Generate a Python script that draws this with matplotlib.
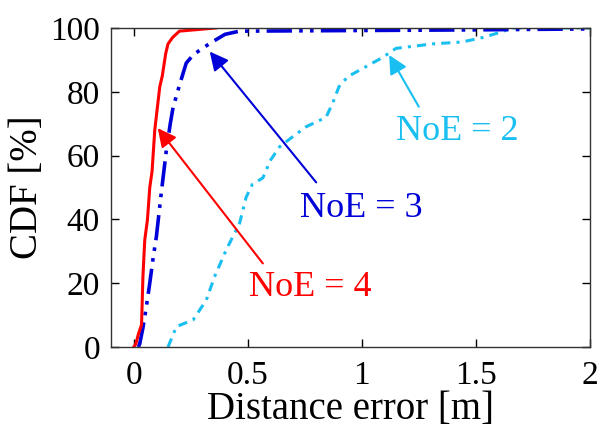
import numpy as np
import matplotlib
matplotlib.use("Agg")
import matplotlib.pyplot as plt

plt.rcParams['font.family'] = ['Liberation Serif', 'DejaVu Serif']

# CDF of distance error for each number of anchors (NoE)
err_noe4 = [0.0, 0.009, 0.02, 0.034, 0.04, 0.048, 0.06, 0.07, 0.08, 0.092, 0.1,
            0.114, 0.125, 0.14, 0.15, 0.17, 0.2, 0.36]
cdf_noe4 = [0, 1, 4, 7, 22, 33.5, 40, 50, 55, 68, 73,
            81.6, 85, 92, 95, 97, 99, 100]

err_noe3 = [0.02, 0.026, 0.04, 0.055, 0.07, 0.085, 0.099, 0.12, 0.143, 0.16, 0.172,
            0.2, 0.23, 0.26, 0.289, 0.32, 0.346, 0.4, 0.464, 1.0, 1.5, 2.0]
cdf_noe3 = [0, 1, 6, 12.6, 20, 28, 34.6, 48, 61.8, 70, 75,
            82, 89, 91.5, 93, 94.5, 95.7, 98, 99, 99.2, 99.4, 99.7]

err_noe2 = [0.15, 0.187, 0.26, 0.318, 0.354, 0.405, 0.464, 0.493, 0.52, 0.566, 0.6, 0.64,
            0.697, 0.755, 0.843, 0.872, 0.9, 0.938, 1.09, 1.15, 1.31, 1.44, 1.53, 1.615, 1.66, 2.0]
cdf_noe2 = [0, 6.4, 8.5, 14.7, 22, 30.4, 38.8, 47, 51, 53, 58.6, 62.8,
            65.9, 69, 72, 76.4, 81.6, 84.7, 90.7, 93.6, 95, 95.6, 97, 98.8, 100, 100]

c_red = '#ff0000'
c_blue = '#0000d8'
c_cyan = '#18bff0'

fig = plt.figure(figsize=(6, 4.3), dpi=100)
ax = fig.add_axes([0.185, 0.193, 0.798, 0.742])

ax.plot(err_noe2, cdf_noe2, color=c_cyan, lw=2.2, linestyle=(0, (3, 2, 1, 2)))
ax.plot(err_noe3, cdf_noe3, color=c_blue, lw=2.6, linestyle=(0, (7, 2, 1, 2, 1, 2)))
ax.plot(err_noe4, cdf_noe4, color=c_red, lw=2.2)

ax.set_xlim(-0.1, 2)
ax.set_ylim(0, 100)
ax.set_xticks([0, 0.5, 1, 1.5, 2])
ax.set_xticklabels(['0', '0.5', '1', '1.5', '2'])
ax.set_yticks([0, 20, 40, 60, 80, 100])
ax.tick_params(direction='in', length=6, width=1, top=True, right=True,
               labelsize=24, pad=8)
ax.tick_params(axis='x', pad=10)
for sp in ax.spines.values():
    sp.set_color('#333333')
    sp.set_linewidth(1)

ax.set_xlabel('Distance error [m]', fontsize=28, labelpad=0)
ax.set_ylabel('CDF [%]', fontsize=28, labelpad=3)

def note(text, tip, tail, textpos, color):
    ax.annotate('', xy=tip, xytext=tail,
                arrowprops=dict(arrowstyle='-|>', color=color, lw=1.5,
                                mutation_scale=28, shrinkA=0, shrinkB=0))
    ax.text(textpos[0], textpos[1], text, color=color, fontsize=26,
            ha='center', va='center')

note('NoE = 4', (0.105, 68.6), (0.566, 26.2), (0.775, 18.5), c_red)
note('NoE = 3', (0.333, 92.6), (0.8, 51.6), (1.0, 43.5), c_blue)
note('NoE = 2', (1.12, 91.5), (1.25, 75.3), (1.42, 67.5), c_cyan)

fig.savefig('out.png', dpi=100)
